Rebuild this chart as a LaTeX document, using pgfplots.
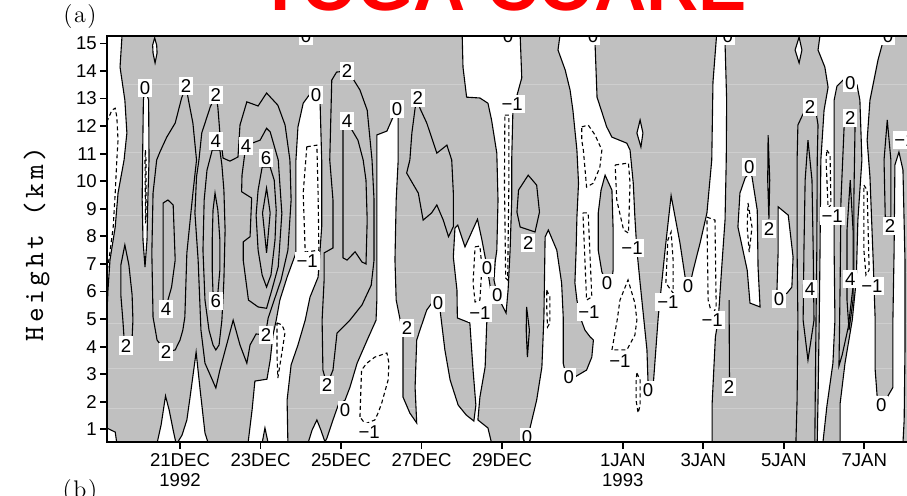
\documentclass[border=0pt]{standalone}
\usepackage{fontspec}
\usepackage{pgfplots}
\pgfplotsset{compat=1.18}
\newfontfamily\sansf{Liberation Sans}
\newfontfamily\ylabfont{lmmono10-regular.otf}[LetterSpace=13]
\definecolor{cgray}{RGB}{192,192,192}
\definecolor{seam}{RGB}{206,206,206}
\newcommand\tf{\sansf\fontsize{9.3}{10}\selectfont}
\tikzset{
  czero/.style={fill=white, draw=black, line width=0.55pt},
  cisle/.style={fill=cgray, draw=black, line width=0.55pt},
  cneg/.style={draw=black, line width=0.55pt, dash pattern=on 2pt off 1.5pt},
  cpos/.style={draw=black, line width=0.55pt},
  clab/.style={fill=white, inner xsep=0.9pt, inner ysep=1.3pt, font=\tf, text=black},
}
\begin{document}
\begin{tikzpicture}
\begin{axis}[
  at={(0pt,0pt)}, anchor=south west, scale only axis,
  width=416.5pt, height=203.3pt,
  xmin=-1.814, xmax=18.88, ymin=0.53, ymax=15.28,
  axis background/.style={fill=cgray},
  axis on top,
  axis line style={line width=1pt},
  tick pos=left, tick align=outside,
  major tick length=3.3pt,
  tick style={black, line width=0.9pt},
  xtick={0,2,4,6,8,11,13,15,17},
  xticklabels={{21DEC\\1992},23DEC,25DEC,27DEC,29DEC,{1JAN\\1993},3JAN,5JAN,7JAN},
  xticklabel style={font=\tf, align=center, inner ysep=2pt},
  ytick={1,2,3,4,5,6,7,8,9,10,11,12,13,14,15},
  yticklabels={1,2,3,4,5,6,7,8,9,10,11,12,13,14,15},
  yticklabel style={font=\tf, inner xsep=1.6pt},
]
% faint seams of the data levels
\addplot[seam, line width=0.6pt] coordinates {(-2,13.52) (20,13.52)};
\addplot[seam, line width=0.6pt] coordinates {(-2,11.03) (20,11.03)};
\addplot[seam, line width=0.6pt] coordinates {(-2,8.77) (20,8.77)};
\addplot[seam, line width=0.6pt] coordinates {(-2,6.69) (20,6.69)};
\addplot[seam, line width=0.6pt] coordinates {(-2,4.84) (20,4.84)};
\addplot[seam, line width=0.6pt] coordinates {(-2,3.21) (20,3.21)};
\addplot[seam, line width=0.6pt] coordinates {(-2,1.76) (20,1.76)};

% ---------- negative (white) regions bounded by the 0 contour ----------
\addplot[czero] coordinates {(-1.82,15.3)(-1.44,15.3)(-1.49,14.14)(-1.37,12.94)(-1.32,11.75)(-1.39,10.77)(-1.54,9.57)(-1.61,8.34)(-1.74,7.14)(-1.79,6.05)(-1.82,5.07)} --cycle;
\addplot[czero] coordinates {(-0.87,13.38)(-0.78,12.94)(-0.77,10.77)(-0.80,9.32)(-0.82,7.87)(-0.87,6.89)(-0.92,7.87)(-0.94,9.32)(-0.93,10.77)(-0.91,12.94)} --cycle;
\addplot[czero] coordinates {(-0.63,15.2)(-0.58,14.94)(-0.57,14.65)(-0.62,14.29)(-0.67,14.65)(-0.68,14.94)} --cycle;
\addplot[czero] coordinates {(-1.82,1.05)(-1.61,0.90)(-1.57,0.5)(-1.82,0.5)} --cycle;
\addplot[czero] coordinates {(-0.57,0.5)(-0.47,1.16)(-0.36,2.21)(-0.27,1.70)(-0.16,0.90)(-0.10,0.5)} --cycle;
\addplot[czero] coordinates {(-0.07,0.5)(0.05,0.79)(0.17,1.34)(0.25,2.17)(0.40,3.80)(0.50,2.43)(0.62,0.87)(0.70,0.5)} --cycle;
% 24 Dec channel
\addplot[czero] coordinates {(3.38,13.24)(3.48,12.83)(3.52,10.77)(3.52,8.34)(3.43,6.52)(3.23,5.80)(3.11,4.96)(2.93,4.06)(2.76,3.34)(2.66,2.06)(2.68,0.5)(2.19,0.5)(2.11,1.05)(2.04,0.5)(1.69,0.5)(1.79,1.70)(1.86,2.75)(2.16,2.82)(2.24,3.51)(2.31,4.42)(2.39,4.96)(2.48,5.69)(2.66,6.52)(2.88,7.40)(2.88,10.77)(2.93,11.97)(3.06,12.83)(3.23,13.17)} --cycle;
% 26-28 Dec: strip, lobe, blob and narrow tongue to the ground
\addplot[czero] coordinates {(5.39,12.65)(5.42,12.29)(5.42,10.77)(5.37,9.32)(5.34,7.14)(5.37,5.69)(5.47,4.96)(5.54,4.35)(5.54,2.17)(5.71,1.59)(5.88,1.23)(5.84,2.52)(5.88,4.24)(5.96,4.60)(6.13,5.33)(6.27,5.61)
 (6.46,5.33)(6.58,3.88)(6.71,2.79)(6.91,1.88)(7.11,1.52)(7.30,1.30)(7.35,1.88)(7.28,3.15)(7.20,4.86)(6.89,5.04)(6.88,6.05)(6.79,7.25)(6.83,8.30)(6.90,8.41)(7.08,7.62)(7.39,8.62)(7.50,7.87)(7.58,7.25)(7.63,6.85)(7.68,6.42)(7.73,5.95)(7.73,5.51)(7.62,4.86)(7.58,3.26)(7.45,2.17)(7.40,1.34)(7.65,1.05)(7.74,0.5)
 (3.18,0.5)(3.28,0.97)(3.40,1.34)(3.50,0.97)(3.60,0.55)(3.65,0.68)(3.80,1.34)(3.93,1.88)(4.10,2.06)(4.22,2.52)(4.40,3.40)(4.65,4.24)(4.87,4.96)(4.89,5.69)(4.89,9.32)(4.89,11.68)(5.14,11.82)(5.26,12.22)} --cycle;
% 28 Dec top and band
\addplot[czero] coordinates {(7.01,15.3)(7.03,14.14)(7.12,13.05)(7.45,13.02)(7.65,12.83)(7.74,12.22)(7.87,11.02)(7.90,9.32)(7.87,7.50)(7.83,7.07)(7.80,6.42)(7.88,5.87)(8.00,5.51)(8.10,5.22)(8.15,6.05)(8.20,7.50)(8.24,9.32)(8.24,10.77)(8.27,12.58)(8.49,13.75)(8.45,15.3)} --cycle;
% 30 Dec - 3 Jan
\addplot[czero] coordinates {(9.44,15.3)(9.39,14.76)(9.57,14.03)(9.69,13.31)(9.76,12.58)(9.86,11.13)(9.90,9.93)(9.86,8.70)(9.84,7.50)(9.81,6.31)(9.86,5.69)(9.94,5.07)(10.06,4.60)(10.19,4.35)(10.27,4.24)(10.23,3.62)(10.10,3.15)(9.81,2.90)(9.66,2.79)(9.57,3.08)(9.52,3.40)(9.52,5.07)(9.48,6.31)(9.36,7.50)(9.15,8.23)(9.07,7.98)(9.04,5.07)(8.99,3.26)(8.86,2.06)(8.70,1.08)(8.62,0.5)
 (13.22,0.5)(13.22,1.95)(13.30,4.35)(13.37,4.96)(13.47,7.14)(13.54,8.59)(13.57,10.77)(13.58,12.94)(13.54,15.01)(13.54,15.3)(13.33,15.3)(13.24,13.59)(13.21,10.77)(13.09,8.85)(12.92,7.76)(12.75,6.78)(12.65,6.13)
 (12.57,6.31)(12.42,7.76)(12.20,9.48)(12.05,7.50)(11.88,5.07)(11.76,2.68)(11.63,2.57)(11.60,3.88)(11.43,6.31)(11.35,7.50)(11.30,8.70)(11.26,9.93)(11.18,11.13)(11.10,11.38)(10.73,11.60)(10.60,11.97)(10.36,13.05)(10.31,15.01)(10.31,15.3)} --cycle;
% positive island inside the 1 Jan negative area
\addplot[cisle] coordinates {(10.56,10.22)(10.73,9.68)(10.76,8.23)(10.76,6.78)(10.73,6.42)(10.61,6.27)(10.48,6.71)(10.39,7.50)(10.39,8.85)(10.46,9.68)} --cycle;
% right part
\addplot[czero] coordinates {(15.90,15.3)(15.85,14.76)(16.02,14.14)(16.10,13.41)(16.00,12.58)(15.92,10.77)(15.90,7.50)(15.88,4.96)(15.85,2.06)(15.83,0.5)(15.97,0.5)(16.07,1.84)(16.22,3.40)(16.27,4.96)(16.25,7.50)(16.25,10.77)(16.25,12.94)(16.32,13.45)(16.47,13.67)(16.65,13.75)(16.82,13.49)(16.89,12.94)(16.94,10.77)(16.84,8.59)(16.80,6.42)(16.70,4.96)(16.52,3.40)(16.40,1.95)(16.40,0.5)(17.96,0.5)(17.99,1.34)(18.01,3.88)(18.01,7.14)(17.96,10.41)(17.86,11.06)(17.76,10.59)(17.74,7.50)(17.71,4.96)(17.71,2.52)(17.57,2.17)(17.42,1.88)(17.32,2.17)(17.27,3.15)(17.27,4.96)(17.22,7.14)(17.14,10.16)(17.07,11.49)(17.14,12.94)(17.34,14.40)(17.44,14.94)(17.47,15.3)} --cycle;
% small negative cells inside the positive area
\addplot[czero] coordinates {(14.16,10.33)(14.21,10.16)(14.34,8.95)(14.36,6.89)(14.41,5.44)(14.16,5.58)(14.09,6.78)(13.86,8.34)(13.91,9.57)(14.04,10.12)} --cycle;
\addplot[czero] coordinates {(14.86,9.07)(15.11,8.77)(15.23,7.25)(15.20,6.16)(15.08,5.94)(14.91,5.83)(14.83,6.05)(14.86,7.50)} --cycle;
\addplot[czero] coordinates {(15.38,15.23)(15.45,14.76)(15.38,14.29)(15.28,14.76)} --cycle;
\addplot[czero] coordinates {(11.43,12.22)(11.50,11.75)(11.45,11.24)(11.35,11.75)} --cycle;

% ---------- -1 contours (dashed) ----------
\addplot[cneg] coordinates {(-1.82,12.15)(-1.69,12.58)(-1.61,12.65)(-1.57,12.33)(-1.54,11.49)(-1.57,10.77)(-1.61,9.57)(-1.66,8.34)(-1.75,7.32)(-1.82,6.61)};
\addplot[cneg] coordinates {(-0.86,11.13)(-0.845,10.77)(-0.845,8.62)(-0.857,8.47)(-0.87,10.77)} --cycle;
\addplot[cneg] coordinates {(3.15,11.25)(3.40,11.31)(3.43,9.57)(3.45,7.50)(3.11,7.43)(3.06,9.57)} --cycle;
\addplot[cneg] coordinates {(2.41,4.86)(2.53,4.79)(2.61,4.53)(2.53,3.77)(2.43,2.86)(2.41,3.69)} --cycle;
\addplot[cneg] coordinates {(4.47,1.45)(4.51,3.15)(4.64,3.40)(4.84,3.62)(5.14,3.77)(5.19,3.40)(5.17,2.79)(5.01,1.95)(4.92,1.59)(4.84,1.34)(4.6,1.2)} --cycle;
\addplot[cneg] coordinates {(8.07,12.40)(8.17,12.40)(8.17,9.93)(8.14,6.42)(8.09,6.49)(8.06,9.93)} --cycle;
\addplot[cneg] coordinates {(7.33,7.62)(7.45,7.65)(7.50,6.89)(7.45,5.69)(7.33,5.62)(7.28,6.31)} --cycle;
\addplot[cneg] coordinates {(9.98,11.97)(10.14,12.04)(10.31,11.68)(10.48,11.13)(10.43,10.51)(10.27,9.93)(10.10,9.79)(10.02,11.13)(9.98,11.49)} --cycle;
\addplot[cneg] coordinates {(10.01,8.85)(10.14,8.85)(10.23,5.80)(10.10,5.69)} --cycle;
\addplot[cneg] coordinates {(10.81,10.59)(11.14,10.66)(11.18,9.93)(11.14,8.12)(11.02,8.23)(10.85,9.32)} --cycle;
\addplot[cneg] coordinates {(10.73,3.88)(10.86,4.96)(10.93,5.69)(11.13,6.42)(11.30,5.58)(11.35,4.96)(11.30,4.42)(11.10,3.88)} --cycle;
\addplot[cneg] coordinates {(11.35,3.04)(11.43,2.79)(11.43,1.88)(11.38,1.59)(11.33,2.06)(11.33,2.79)} --cycle;
\addplot[cneg] coordinates {(12.07,6.31)(12.12,7.87)(12.20,8.16)(12.25,7.14)(12.25,5.94)} --cycle;
\addplot[cneg] coordinates {(13.09,8.70)(13.29,8.59)(13.32,5.43)(13.22,5.14)(13.12,5.69)} --cycle;
\addplot[cneg] coordinates {(9.11,6.05)(9.19,5.80)(9.19,4.86)(9.13,4.71)(9.11,5.44)} --cycle;
\addplot[cneg] coordinates {(14.11,9.21)(14.21,8.34)(14.14,7.43)(14.09,8.34)} --cycle;
\addplot[cneg] coordinates {(16.07,11.13)(16.15,10.95)(16.17,9.14)(16.10,9.03)(16.05,10.77)} --cycle;
\addplot[cneg] coordinates {(16.99,9.86)(17.07,9.68)(17.12,6.78)(17.04,6.60)(16.99,7.50)} --cycle;

% ---------- positive contours 2, 4, 6, 8 ----------
\addplot[cpos] coordinates {(0.15,13.45)(0.20,13.02)(0.32,12.11)(0.41,10.77)(0.32,9.57)(0.17,7.40)(0.12,5.07)(0.07,4.60)(0,4.24)(-0.12,3.88)(-0.35,3.80)(-0.57,4.24)(-0.67,5.07)(-0.70,7.40)(-0.67,9.57)(-0.58,10.77)(-0.50,11.06)(-0.33,11.60)(-0.12,12.11)(0.04,13.02)} --cycle;
\addplot[cpos] coordinates {(-0.42,9.21)(-0.30,9.32)(-0.17,9.14)(-0.12,7.14)(-0.21,6.16)(-0.30,5.69)(-0.35,5.36)(-0.42,5.69)(-0.42,7.50)} --cycle;
\addplot[cpos] coordinates {(-1.37,7.69)(-1.27,6.96)(-1.19,5.87)(-1.17,4.96)(-1.19,4.31)(-1.34,4.06)(-1.39,4.31)(-1.42,4.96)(-1.47,5.87)(-1.47,6.96)} --cycle;
\addplot[cpos] coordinates {(0.89,13.13)(0.94,12.69)(0.99,11.75)(1.07,10.84)(1.24,10.73)(1.44,10.88)(1.49,12.04)(1.66,12.88)(1.94,12.73)(2.15,13.20)(2.43,12.76)(2.61,12.04)(2.73,10.77)(2.76,9.32)(2.68,7.50)(2.51,6.42)(2.34,5.69)(2.19,5.04)(2.14,4.60)(2.14,4.42)(1.89,4.46)(1.74,4.06)(1.66,3.40)(1.49,4.06)(1.32,4.96)(1.19,4.24)(0.99,3.15)(0.89,2.50)(0.75,2.97)(0.62,3.40)(0.52,4.60)(0.50,5.33)(0.45,7.14)(0.37,8.85)(0.41,10.16)(0.47,10.77)(0.54,11.75)(0.75,12.69)} --cycle;
\addplot[cpos] coordinates {(0.80,11.13)(0.67,10.40)(0.60,9.32)(0.57,7.50)(0.62,5.69)(0.72,4.60)(0.82,4.06)(0.89,3.88)(0.97,4.06)(1.04,4.96)(1.09,6.42)(1.12,8.23)(1.09,9.68)(1.04,10.59)(0.99,11.13)} --cycle;
\addplot[cpos] coordinates {(0.87,9.57)(0.94,8.95)(0.99,7.87)(0.99,6.78)(0.94,5.94)(0.89,5.69)(0.82,5.94)(0.80,6.78)(0.80,7.87)(0.82,8.95)} --cycle;
\addplot[cpos] coordinates {(1.61,11.02)(1.54,10.22)(1.53,9.62)(1.78,9.39)(1.74,7.99)(1.57,7.80)(1.57,7.14)(1.70,5.69)(1.94,5.44)(2.15,5.39)(2.28,6.05)(2.44,6.90)(2.53,8.83)(2.44,10.77)(2.24,11.79)(2.15,11.92)(1.99,11.49)(1.66,11.31)} --cycle;
\addplot[cpos] coordinates {(2.04,10.51)(1.94,9.68)(1.89,8.77)(1.94,7.50)(2.04,6.60)(2.15,6.16)(2.26,6.60)(2.36,7.87)(2.39,8.95)(2.34,10.04)(2.24,10.51)} --cycle;
\addplot[cpos] coordinates {(2.15,9.75)(2.24,8.85)(2.15,7.40)(2.05,8.85)} --cycle;
\addplot[cpos] coordinates {(4.15,14.00)(4.30,13.71)(4.47,13.31)(4.65,12.58)(4.77,10.77)(4.82,9.32)(4.82,7.14)(4.75,6.23)(4.52,5.51)(4.22,4.96)(3.90,4.49)(3.80,3.15)(3.65,2.61)(3.55,3.15)(3.53,4.96)(3.58,6.42)(3.58,7.40)(3.80,7.58)(3.80,9.32)(3.72,10.77)(3.77,13.67)(3.89,13.96)} --cycle;
\addplot[cpos] coordinates {(4.15,12.18)(4.27,11.86)(4.42,11.49)(4.55,10.77)(4.62,10.04)(4.65,8.59)(4.62,7.00)(4.52,7.07)(4.35,7.44)(4.15,7.14)(4.05,7.22)(4.05,9.32)(4.05,10.77)(4.05,11.86)} --cycle;
\addplot[cpos] coordinates {(5.91,13.02)(5.96,12.65)(6.13,12.11)(6.38,11.02)(6.63,11.31)(6.75,10.77)(6.79,9.57)(6.79,8.35)(6.67,7.99)(6.54,8.59)(6.38,9.14)(6.25,8.85)(6.04,8.59)(5.92,9.57)(5.76,9.97)(5.63,10.30)(5.71,10.77)(5.76,11.75)(5.84,12.65)} --cycle;
\addplot[cpos] coordinates {(8.65,10.22)(8.86,9.86)(8.93,8.88)(8.82,8.16)(8.45,8.34)(8.37,8.88)(8.41,9.68)} --cycle;
\addplot[cpos] coordinates {(8.61,5.44)(8.68,4.60)(8.63,3.62)(8.60,4.60)} --cycle;
\addplot[cpos] coordinates {(13.64,5.69)(13.65,2.90)};
\addplot[cpos] coordinates {(14.61,11.67)(14.65,10.04)(14.63,8.63)(14.60,10.04)} --cycle;
\addplot[cpos] coordinates {(15.50,12.51)(15.35,12.04)(15.33,10.77)(15.33,7.50)(15.35,4.96)(15.33,2.06)(15.30,0.5)};
\addplot[cpos] coordinates {(15.80,12.51)(15.85,12.04)(15.83,10.77)(15.82,7.50)(15.80,4.96)(15.78,2.06)(15.77,0.5)};
\addplot[cpos] coordinates {(15.60,11.49)(15.70,10.04)(15.73,7.50)(15.75,4.96)(15.60,3.51)(15.48,4.96)(15.50,7.50)(15.53,10.04)} --cycle;
\addplot[cpos] coordinates {(16.50,12.04)(16.42,9.32)(16.40,6.42)(16.38,4.24)(16.37,3.30)(16.45,3.70)(16.60,4.70)(16.74,6.42)(16.74,9.32)(16.77,12.04)} --cycle;
\addplot[cpos] coordinates {(16.65,10.04)(16.72,8.23)(16.72,5.69)(16.62,4.60)(16.57,5.69)(16.57,8.23)} --cycle;
\addplot[cpos] coordinates {(17.57,12.22)(17.66,10.77)(17.66,8.70)(17.52,8.70)(17.49,10.77)} --cycle;

% ---------- contour labels ----------
\node[clab] at (axis cs:-0.87,13.38) {0};
\node[clab] at (axis cs:0.15,13.45) {2};
\node[clab] at (axis cs:0.89,13.13) {2};
\node[clab] at (axis cs:0.89,11.46) {4};
\node[clab] at (axis cs:1.64,11.28) {4};
\node[clab] at (axis cs:2.14,10.84) {6};
\node[clab] at (axis cs:0.89,5.66) {6};
\node[clab] at (axis cs:-0.35,5.37) {4};
\node[clab] at (axis cs:-1.34,4.04) {2};
\node[clab] at (axis cs:-0.35,3.80) {2};
\node[clab] at (axis cs:2.14,4.42) {2};
\node[clab] at (axis cs:3.38,13.13) {0};
\node[clab] at (axis cs:3.16,7.10) {−1};
\node[clab] at (axis cs:4.15,14.00) {2};
\node[clab] at (axis cs:4.15,12.18) {4};
\node[clab] at (axis cs:5.39,12.62) {0};
\node[clab] at (axis cs:5.91,13.02) {2};
\node[clab] at (axis cs:8.25,12.80) {−1};
\node[clab] at (axis cs:3.65,2.61) {2};
\node[clab] at (axis cs:4.10,1.70) {0};
\node[clab] at (axis cs:4.70,0.90) {−1};
\node[clab] at (axis cs:5.64,4.68) {2};
\node[clab] at (axis cs:6.41,5.58) {0};
\node[clab] at (axis cs:8.65,7.76) {2};
\node[clab] at (axis cs:7.63,6.85) {0};
\node[clab] at (axis cs:7.88,5.87) {0};
\node[clab] at (axis cs:7.45,5.22) {−1};
\node[clab] at (axis cs:10.16,5.25) {−1};
\node[clab] at (axis cs:10.61,6.31) {0};
\node[clab] at (axis cs:11.23,7.58) {−1};
\node[clab] at (axis cs:10.93,3.48) {−1};
\node[clab] at (axis cs:11.63,2.42) {0};
\node[clab] at (axis cs:9.66,2.90) {0};
\node[clab] at (axis cs:8.62,0.72) {0};
\node[clab] at (axis cs:12.12,5.62) {−1};
\node[clab] at (axis cs:12.62,6.20) {0};
\node[clab] at (axis cs:13.22,4.96) {−1};
\node[clab] at (axis cs:14.14,10.52) {0};
\node[clab] at (axis cs:14.63,8.27) {2};
\node[clab] at (axis cs:14.88,5.73) {0};
\node[clab] at (axis cs:15.65,6.09) {4};
\node[clab] at (axis cs:16.20,8.74) {−1};
\node[clab] at (axis cs:16.65,6.45) {4};
\node[clab] at (axis cs:17.19,6.20) {−1};
\node[clab] at (axis cs:17.64,8.38) {2};
\node[clab] at (axis cs:13.64,2.53) {2};
\node[clab] at (axis cs:17.42,1.89) {0};
\node[clab] at (axis cs:15.65,12.69) {2};
\node[clab] at (axis cs:16.65,12.29) {2};
\node[clab] at (axis cs:16.65,13.56) {0};
\node[clab] at (axis cs:18.01,11.49) {−1};
\node[clab] at (axis cs:3.13,15.27) {0};
\node[clab] at (axis cs:8.15,15.27) {0};
\node[clab] at (axis cs:10.26,15.27) {0};
\node[clab] at (axis cs:13.61,15.27) {0};
\node[clab] at (axis cs:17.59,15.27) {0};
\end{axis}
\node[rotate=90, font=\ylabfont\fontsize{14}{16}\selectfont] at (-35.25pt,99.15pt) {Height (km)};
\node[font=\fontsize{12}{14}\selectfont] at (-13.5pt,212.9pt) {(\kern0.8pt a\kern0.8pt)};
\node[font=\fontsize{12}{14}\selectfont] at (-13.5pt,-24.6pt) {(\kern0.8pt b\kern0.8pt)};
\node[anchor=base, text=red, font=\sansf\bfseries\fontsize{36.15}{40}\selectfont] at (197.95pt,215.65pt) {TOGA COARE};
\pgfresetboundingbox
\useasboundingbox (-53.5pt,-26.85pt) rectangle (400pt,221.15pt);
\end{tikzpicture}
\end{document}
